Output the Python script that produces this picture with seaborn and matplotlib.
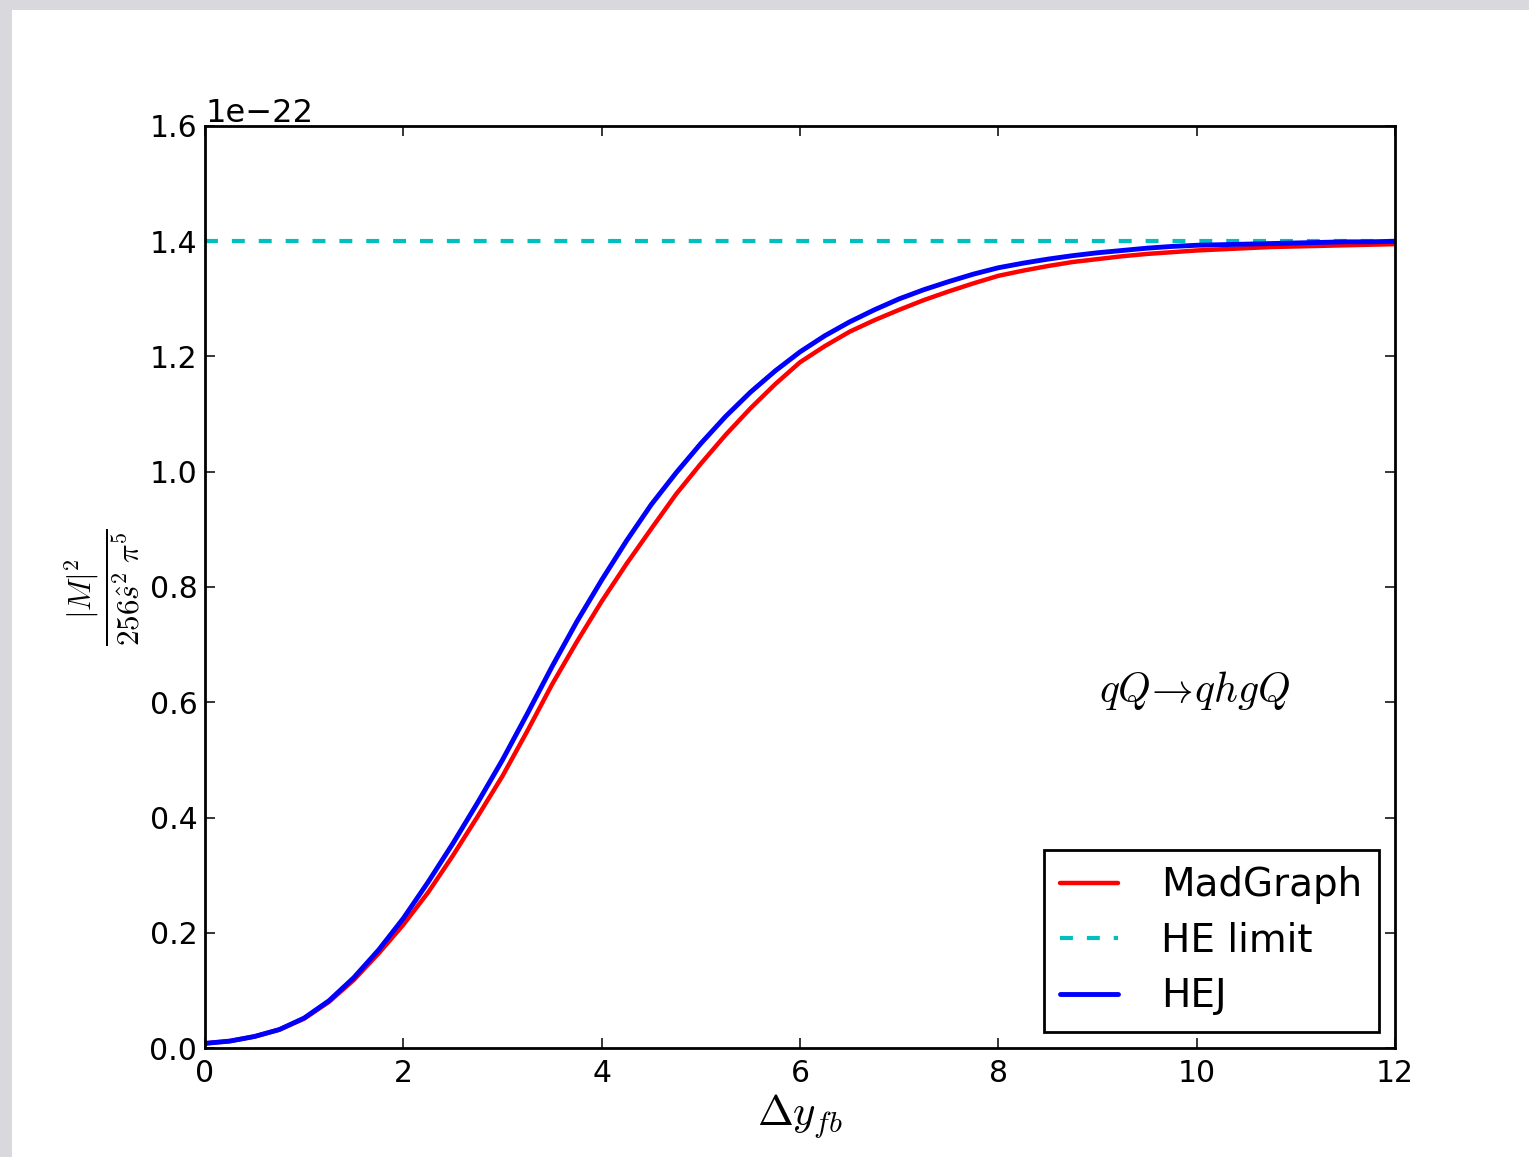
import numpy as np
import pandas as pd
import matplotlib
matplotlib.use("Agg")
import matplotlib.pyplot as plt
from matplotlib.patches import Rectangle
import seaborn as sns

# Rapidity separation between forward and backward jets
dy_fb = [0.0, 0.25, 0.5, 0.75, 1.0, 1.25, 1.5, 1.75, 2.0, 2.25, 2.5, 2.75,
         3.0, 3.25, 3.5, 3.75, 4.0, 4.25, 4.5, 4.75, 5.0, 5.25, 5.5, 5.75,
         6.0, 6.25, 6.5, 6.75, 7.0, 7.25, 7.5, 7.75, 8.0, 8.25, 8.5, 8.75,
         9.0, 9.25, 9.5, 9.75, 10.0, 10.25, 10.5, 10.75, 11.0, 11.25, 11.5,
         11.75, 12.0]

# |M|^2 / (256 s^2 pi^5), in units of 1e-22
madgraph = [0.008, 0.012, 0.020, 0.032, 0.051, 0.080, 0.118, 0.164, 0.214,
            0.270, 0.334, 0.402, 0.472, 0.550, 0.631, 0.705, 0.775, 0.840,
            0.901, 0.961, 1.014, 1.064, 1.110, 1.152, 1.190, 1.218, 1.243,
            1.263, 1.281, 1.298, 1.313, 1.327, 1.340, 1.349, 1.357, 1.364,
            1.369, 1.374, 1.378, 1.381, 1.384, 1.386, 1.388, 1.390, 1.391,
            1.392, 1.393, 1.394, 1.395]
hej = [0.008, 0.012, 0.020, 0.032, 0.052, 0.082, 0.122, 0.170, 0.225,
       0.288, 0.355, 0.426, 0.500, 0.580, 0.662, 0.740, 0.812, 0.880,
       0.943, 0.998, 1.049, 1.096, 1.138, 1.175, 1.208, 1.236, 1.260,
       1.281, 1.300, 1.316, 1.330, 1.343, 1.354, 1.362, 1.369, 1.375,
       1.380, 1.384, 1.388, 1.391, 1.393, 1.394, 1.395, 1.396, 1.397,
       1.398, 1.399, 1.399, 1.400]
he_limit = 1.40
unit = 1e-22

x_ticks = [0, 2, 4, 6, 8, 10, 12]
y_ticks = [0.0, 0.2, 0.4, 0.6, 0.8, 1.0, 1.2, 1.4, 1.6]

sns.set_style("ticks")
plt.rcParams.update({
    "font.family": ["DejaVu Sans"],
    "mathtext.fontset": "cm",
    "text.color": "black",
    "axes.labelcolor": "black",
    "xtick.direction": "in",
    "ytick.direction": "in",
    "xtick.top": True,
    "ytick.right": True,
    "xtick.major.size": 7.5,
    "ytick.major.size": 7.5,
    "xtick.major.width": 1.1,
    "ytick.major.width": 1.1,
    "xtick.major.pad": 8,
    "ytick.major.pad": 5.5,
    "axes.linewidth": 2.0,
    "axes.edgecolor": "black",
    "xtick.color": "black",
    "ytick.color": "black",
})

df = pd.DataFrame({
    "dy": dy_fb * 2,
    "value": [v * unit for v in madgraph] + [v * unit for v in hej],
    "source": ["MadGraph"] * len(dy_fb) + ["HEJ"] * len(dy_fb),
})

fig = plt.figure(figsize=(15.29, 11.57), dpi=100)
fig.patch.set_facecolor("#d9d9dd")
fig.patches.append(Rectangle((12 / 1529, 0), 1, (1157 - 10) / 1157,
                             transform=fig.transFigure, facecolor="white",
                             edgecolor="none", zorder=-10))

ax = fig.add_axes([205 / 1529, 1 - 1048 / 1157, 1190 / 1529, 922 / 1157])
ax.set_zorder(5)
ax.set_facecolor("white")

sns.lineplot(data=df[df["source"] == "MadGraph"], x="dy", y="value",
             color="red", linewidth=3.2, label="MadGraph", ax=ax)
ax.axhline(he_limit * unit, color=(0.0, 0.75, 0.75), linewidth=3.0,
           dashes=(3.1, 3.35), label="HE limit")
sns.lineplot(data=df[df["source"] == "HEJ"], x="dy", y="value",
             color="blue", linewidth=3.5, label="HEJ", ax=ax)

ax.set_xlim(0, 12)
ax.set_ylim(0, 1.6 * unit)
ax.set_xticks(x_ticks)
ax.set_yticks([t * unit for t in y_ticks])
ax.tick_params(labelsize=21.5)
ax.yaxis.get_offset_text().set_fontsize(23)

ax.set_xlabel(r"$\Delta y_{fb}$", fontsize=31, labelpad=3)
ax.set_ylabel(r"$\frac{|M|^2}{256\hat{s}^2\;\pi^5}$", fontsize=32, labelpad=5)

ax.text(9.98, 0.621 * unit, r"$qQ\!\rightarrow\! qhgQ$", fontsize=30,
        ha="center", va="center")

leg = ax.legend(loc="lower right", fontsize=28, handlelength=1.5,
                handletextpad=1.1, labelspacing=0.45, borderpad=0.42,
                borderaxespad=0.42, fancybox=False, framealpha=1,
                edgecolor="black")
leg.get_frame().set_linewidth(2.0)

fig.savefig("out.png", dpi=100, facecolor=fig.get_facecolor())
